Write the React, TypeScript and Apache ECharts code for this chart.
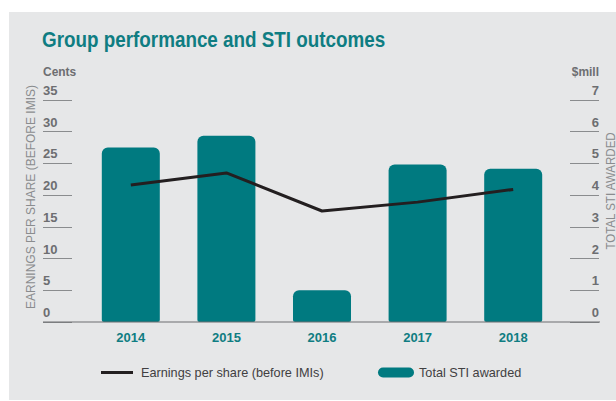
import React, { useEffect, useRef } from "react";
import * as echarts from "echarts";

const years = ["2014", "2015", "2016", "2017", "2018"];
const epsCents = [21.6, 23.5, 17.5, 18.9, 20.9];
const stiMillions = [5.5, 5.87, 1.0, 4.97, 4.83];
const leftTicks = { min: 0, max: 35, interval: 5 };
const rightTicks = { min: 0, max: 7, interval: 1 };

const TEAL = "#007a80";
const TITLE_TEAL = "#0f7d82";
const GREY = "#6d6e71";
const SANS = "'Liberation Sans', Arial, sans-serif";

export default function App() {
  const ref = useRef<HTMLDivElement>(null);
  useEffect(() => {
    if (!ref.current) return;
    const chart = echarts.init(ref.current, undefined, { renderer: "svg" });
    const gridBottomY = 322;
    chart.setOption({
      animation: false,
      backgroundColor: "#ffffff",
      grid: { left: 83, right: 55, top: 100, bottom: 401 - gridBottomY },
      graphic: [
        { type: "rect", z: -10, shape: { x: 9, y: 12, width: 607, height: 388 }, style: { fill: "#e6e7e8" } },
        {
          type: "text", x: 42, y: 39, scaleX: 0.857,
          style: {
            text: "Group performance and STI outcomes", fill: TITLE_TEAL, font: `bold 22px ${SANS}`,
            textVerticalAlign: "middle",
          },
        },
        {
          type: "text", x: 43, y: 72, scaleX: 0.92,
          style: { text: "Cents", fill: GREY, font: `bold 13px ${SANS}`, textVerticalAlign: "middle" },
        },
        {
          type: "text", x: 599, y: 72, scaleX: 0.92,
          style: { text: "$mill", fill: GREY, font: `bold 13px ${SANS}`, textAlign: "right", textVerticalAlign: "middle" },
        },
        {
          type: "text", x: 31, y: 197, rotation: Math.PI / 2, scaleX: 0.96,
          style: {
            text: "EARNINGS PER SHARE (BEFORE IMIS)", fill: "#8a8c8e", font: `12.5px ${SANS}`,
            textAlign: "center", textVerticalAlign: "middle",
          },
        },
        {
          type: "text", x: 610, y: 191, rotation: Math.PI / 2, scaleX: 0.96,
          style: {
            text: "TOTAL STI AWARDED", fill: "#8a8c8e", font: `12px ${SANS}`,
            textAlign: "center", textVerticalAlign: "middle",
          },
        },
        {
          type: "line", z: 10,
          shape: { x1: 43, y1: gridBottomY, x2: 600, y2: gridBottomY },
          style: { stroke: GREY, lineWidth: 1.2 },
        },
      ],
      legend: [
        {
          data: [{ name: "Earnings per share (before IMIs)", icon: "path://M0,0 H32 V3 H0 Z" }],
          left: 101, top: 366, padding: 0, itemWidth: 32, itemHeight: 3,
          textStyle: { color: "#414042", fontSize: 12.7, fontFamily: SANS, padding: [0, 0, 0, 3] },
        },
        {
          data: [{ name: "Total STI awarded", icon: "path://M5,0 H31 A5,5 0 0 1 31,10 H5 A5,5 0 0 1 5,0 Z" }],
          left: 378, top: 366, padding: 0, itemWidth: 36, itemHeight: 10,
          textStyle: { color: "#414042", fontSize: 12.7, fontFamily: SANS },
        },
      ],
      xAxis: {
        type: "category",
        data: years,
        axisLine: { show: false },
        axisTick: { show: false },
        axisLabel: { color: TITLE_TEAL, fontWeight: "bold", fontSize: 13, fontFamily: SANS, margin: 9 },
      },
      yAxis: [
        {
          type: "value", position: "left", offset: 11,
          min: leftTicks.min, max: leftTicks.max, interval: leftTicks.interval,
          axisLine: { show: false },
          axisTick: { show: true, length: 29, lineStyle: { color: "#8a8c8e", width: 1 } },
          splitLine: { show: false },
          axisLabel: {
            align: "left", margin: 29, verticalAlign: "bottom", padding: [0, 0, 3, 0],
            color: GREY, fontWeight: "bold", fontSize: 13, fontFamily: SANS,
          },
        },
        {
          type: "value", position: "right", offset: 9,
          min: rightTicks.min, max: rightTicks.max, interval: rightTicks.interval,
          axisLine: { show: false },
          axisTick: { show: true, length: 29, lineStyle: { color: "#8a8c8e", width: 1 } },
          splitLine: { show: false },
          axisLabel: {
            align: "right", margin: 29, verticalAlign: "bottom", padding: [0, 0, 3, 0],
            color: GREY, fontWeight: "bold", fontSize: 13, fontFamily: SANS,
          },
        },
      ],
      series: [
        {
          name: "Total STI awarded",
          type: "bar",
          yAxisIndex: 1,
          data: stiMillions,
          barWidth: 58,
          itemStyle: { color: TEAL, borderRadius: [6, 6, 2, 2] },
        },
        {
          name: "Earnings per share (before IMIs)",
          type: "line",
          yAxisIndex: 0,
          data: epsCents,
          symbol: "none",
          z: 5,
          lineStyle: { color: "#231f20", width: 3 },
          itemStyle: { color: "#231f20" },
        },
      ],
    });
    return () => chart.dispose();
  }, []);
  return <div ref={ref} style={{ position: "fixed", left: 0, top: 0, width: 616, height: 401 }} />;
}
